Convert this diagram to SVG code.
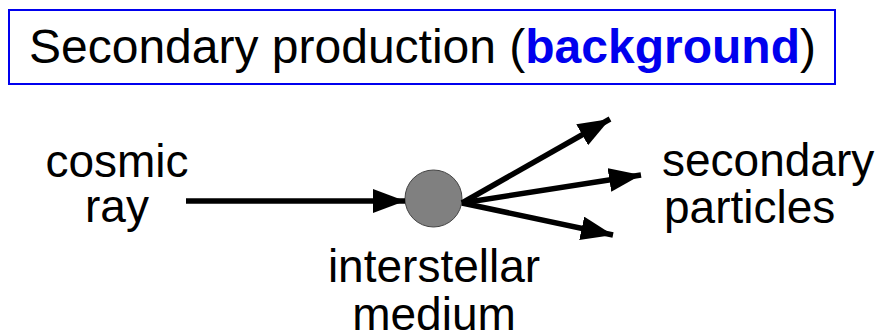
<svg xmlns="http://www.w3.org/2000/svg" width="887" height="336" viewBox="0 0 887 336">
<defs>
<style>
text{font-family:"Liberation Sans",Arial,sans-serif;font-size:46px;fill:#000}
.title{font-size:48px}
.hl{fill:#0000ee;font-weight:bold}
.arr{stroke:#000;stroke-width:5.5;fill:none;marker-end:url(#ah)}
</style>
<marker id="ah" markerUnits="userSpaceOnUse" markerWidth="34" markerHeight="24" refX="32" refY="12" orient="auto" viewBox="0 0 34 24">
<path d="M0,0 L32,12 L0,24 Z" fill="#000"/>
</marker>
</defs>
<g id="title">
<rect x="9" y="10" width="826" height="74" fill="#fff" stroke="#0000ee" stroke-width="2"/>
<text class="title" x="29" y="63">Secondary production (<tspan class="hl">background</tspan>)</text>
</g>
<g id="cosmic-ray">
<text x="117" y="177" text-anchor="middle">cosmic</text>
<text x="117" y="222" text-anchor="middle">ray</text>
</g>
<g id="medium">
<circle cx="433.5" cy="198.5" r="28.5" fill="#808080" stroke="#444" stroke-width="1"/>
<text x="434" y="282" text-anchor="middle">interstellar</text>
<text x="434" y="330" text-anchor="middle">medium</text>
</g>
<g id="secondary">
<text x="662" y="176">secondary</text>
<text x="664" y="223">particles</text>
</g>
<g id="connectors">
<line class="arr" x1="186" y1="201" x2="405" y2="201"/>
<line class="arr" x1="462" y1="203" x2="610" y2="119"/>
<line class="arr" x1="462" y1="203" x2="641" y2="175"/>
<line class="arr" x1="462" y1="203" x2="613" y2="235"/>
</g>
</svg>
